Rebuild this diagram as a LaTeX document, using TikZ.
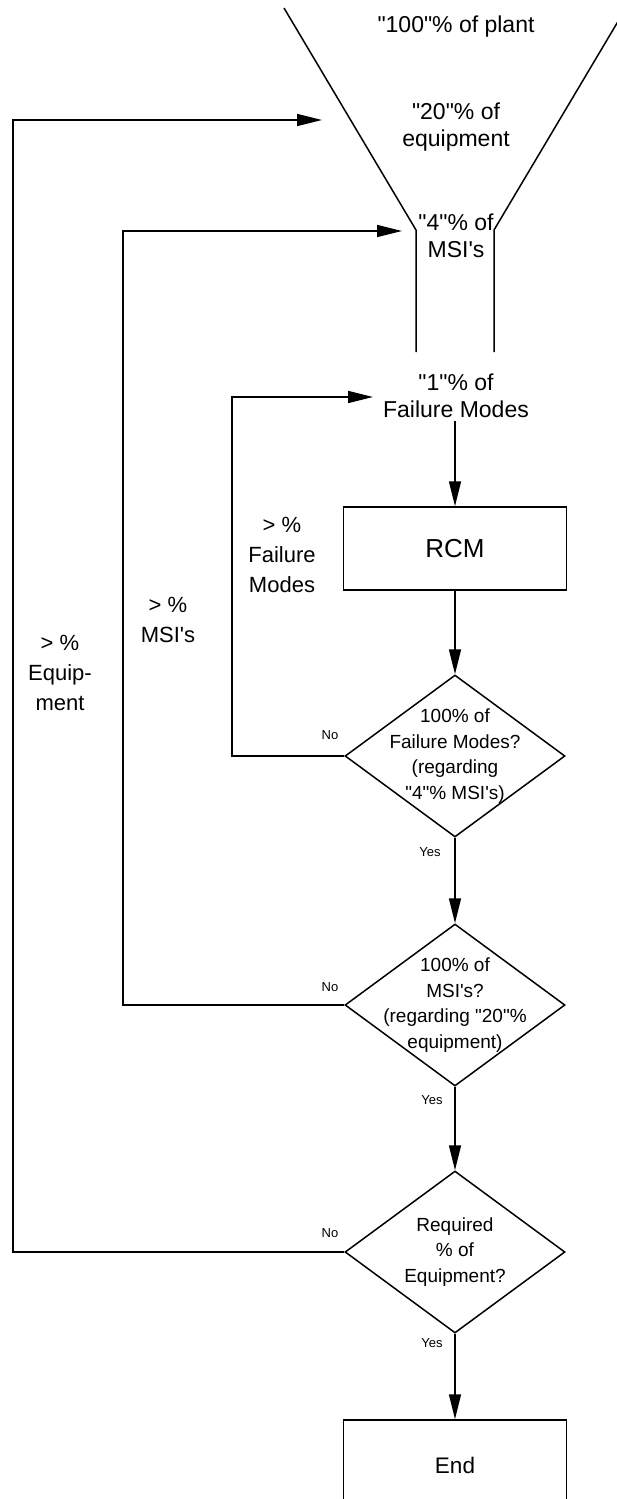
\documentclass[tikz,border=0pt]{standalone}
\usepackage{fontspec}
\setmainfont{Liberation Sans}[Ligatures=TeXOff]
\usetikzlibrary{arrows.meta,shapes.geometric}

\tikzset{
  line/.style={line width=1.5pt, black},
  arr/.style={line, -{Triangle[length=25pt,width=12pt]}},
  funnel/.style={line width=1.5pt, black},
  toptxt/.style={align=center, inner sep=3pt, font=\fontsize{23}{27}\selectfont},
  sidetxt/.style={align=center, inner sep=0pt, font=\fontsize{22}{30}\selectfont},
  dtxt/.style={align=center, inner sep=0pt, font=\fontsize{19}{25.5}\selectfont},
  yn/.style={inner sep=0pt, font=\fontsize{13}{15}\selectfont},
  procbox/.style={draw, line width=1.5pt, minimum width=223pt, minimum height=83pt, inner sep=0pt},
  decision/.style={diamond, draw, line width=1.5pt, minimum width=220pt, minimum height=162pt, inner sep=0pt},
}

\begin{document}
\begin{tikzpicture}[x=1pt, y=-1pt]
\useasboundingbox (0,0) rectangle (617,1499);

% funnel outline
\draw[funnel] (284,8) -- (416,230) -- (416,352);
\draw[funnel] (626,8) -- (494,230) -- (494,352);

% funnel stages
\node[toptxt] (plant) at (456,27) {"100"\% of plant};
\node[toptxt] (equip) at (456,127) {"20"\% of\\equipment};
\node[toptxt] (msi) at (456,236) {"4"\% of\\MSI's};
\node[toptxt] (fm) at (456,396) {"1"\% of\\Failure Modes};

% process and decisions
\node[procbox] (rcm) at (455,548.5) {\fontsize{26}{30}\selectfont RCM};

\node[decision] (d1) at (455,756) {};
\node[dtxt] at (d1.center) {100\% of\\Failure Modes?\\(regarding\\"4"\% MSI's)};

\node[decision] (d2) at (455,1005) {};
\node[dtxt] at (d2.center) {100\% of\\MSI's?\\(regarding "20"\%\\equipment)};

\node[decision] (d3) at (455,1252) {};
\node[dtxt] at (d3.center) {Required\\\% of\\Equipment?};

\node[procbox, minimum height=90pt] (fin) at (455,1465) {\fontsize{22.5}{27}\selectfont End};

% main flow
\draw[arr] (fm.south -| rcm.north) -- (rcm.north);
\draw[arr] (rcm.south) -- (d1.north);
\draw[arr] (d1.south) -- (d2.north);
\draw[arr] (d2.south) -- (d3.north);
\draw[arr] (d3.south) -- (fin.north);

% loop-back targets and corners
\coordinate (t1) at (322,120);
\coordinate (t2) at (402,231);
\coordinate (t3) at (373,397);
\coordinate (c1) at (13,120);
\coordinate (c2) at (123,231);
\coordinate (c3) at (232,397);

\draw[arr] (d1.west) -| (c3) -- (t3);
\draw[arr] (d2.west) -| (c2) -- (t2);
\draw[arr] (d3.west) -| (c1) -- (t1);

% branch labels
\node[yn] (no1) at (330,735) {No};
\node[yn] (no2) at (330,987) {No};
\node[yn] (no3) at (330,1233) {No};
\node[yn] (yes1) at (430,852) {Yes};
\node[yn] (yes2) at (432,1100) {Yes};
\node[yn] (yes3) at (432,1343) {Yes};

% loop labels
\node[sidetxt] (lfm) at (282,555) {> \%\\Failure\\Modes};
\node[sidetxt] (lmsi) at (168,620) {> \%\\MSI's};
\node[sidetxt] (leq) at (60,673) {> \%\\Equip-\\ment};
\end{tikzpicture}
\end{document}
